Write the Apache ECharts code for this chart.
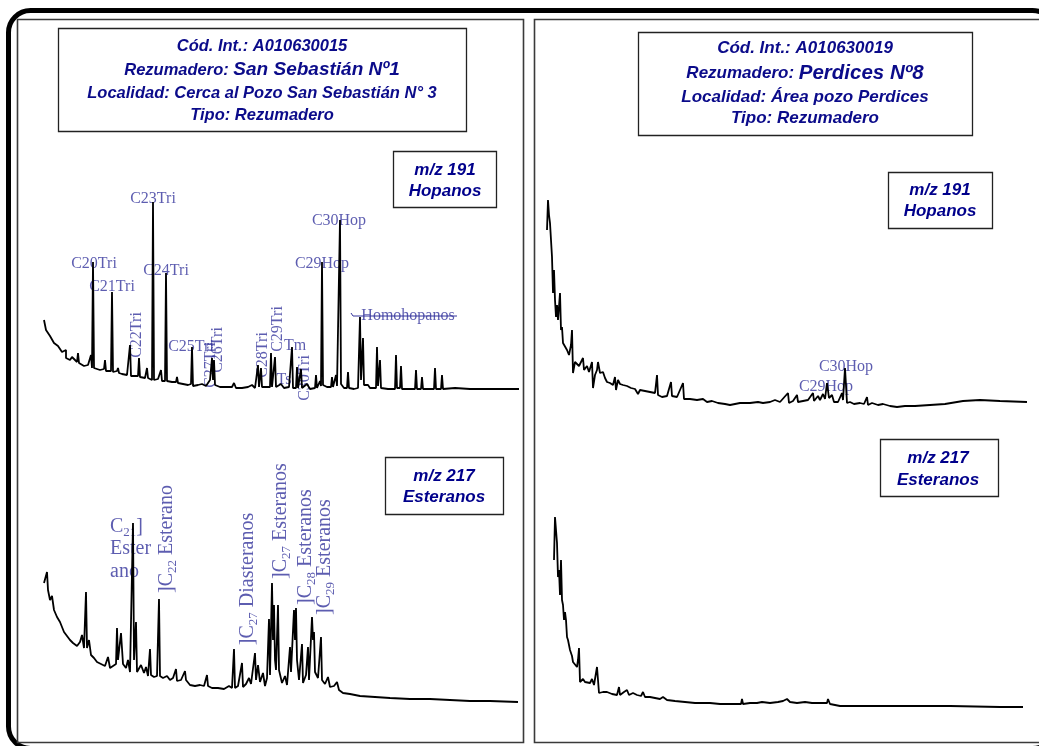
<!DOCTYPE html>
<html><head><meta charset="utf-8">
<script src="https://cdn.jsdelivr.net/npm/echarts@6/dist/echarts.min.js"></script>
<style>html,body{margin:0;padding:0;background:#fff}#c{width:1039px;height:746px}</style>
</head><body><div id="c"></div>
<script>
// ---- Chromatogram traces: [retention (arbitrary units), relative abundance] ----
const hopanosA = [[0,36],[0.4,31],[1.2,28],[2,24.5],[2.8,23],[3.6,20],[4.4,21],[4.4,17],[4.8,18],[5.2,16],[5.6,17.5],[6.6,15],[6.8,19.5],[7,14.5],[7.2,14],[8,13],[8.8,13.5],[9.2,13],[9.4,18.5],[9.6,12],[9.8,65],[10,12],[10.4,13],[11.2,11],[12,11.5],[12.2,16],[12.4,10.5],[12.6,10.5],[13.4,10.5],[13.6,50],[13.8,10],[14.6,10.5],[14.8,12],[15,9.5],[15.6,9],[16.6,8.5],[17,8.5],[17.2,23.5],[17.4,8],[18.2,8],[18.8,8],[19,17],[19.2,7.5],[20.2,7],[20.4,7.5],[20.6,12],[20.8,7],[21.6,6],[21.8,95],[22,6],[22.8,6.5],[23.2,6],[23.4,11],[23.6,5.5],[24.2,5.5],[24.4,59.5],[24.6,5.5],[25.6,5],[26.4,5],[26.6,7.5],[26.8,4.5],[27.8,4],[28.8,3.5],[29.4,4],[29.6,22.5],[29.8,3],[30.8,3.5],[31.6,4],[32.4,3],[33.2,6],[33.6,17],[33.8,6],[34,16],[34.2,3.5],[35.2,2.5],[36.4,2.5],[37.6,2.5],[38,4.5],[38.4,2],[39.6,2],[40.8,2.5],[41.6,3.5],[42.2,2],[42.6,2.5],[42.8,13.5],[43,2.5],[43.4,12],[43.6,2.5],[44.4,2.5],[45.2,2.5],[45.4,19.5],[45.6,2.5],[46,2.5],[46.2,17.5],[46.4,2.5],[47.4,4],[48,2],[49,2.5],[49.4,2.5],[49.6,22.5],[49.8,2],[50.4,2],[50.6,12.5],[50.8,2],[51.2,2],[51.4,11.5],[51.6,2],[52.6,4],[53.2,1.5],[54.2,2],[54.4,8.5],[54.6,2],[55.2,5.5],[55.4,3],[55.6,65],[55.8,3.5],[56.6,2.5],[57.4,2.5],[57.6,7.5],[57.8,2.5],[58.2,3],[58.4,8.5],[58.6,3],[59,3],[59.2,86],[59.4,4],[60,2],[60.6,2],[60.8,10],[61,2],[62,1.5],[62.8,2],[63,2],[63.2,37.5],[63.4,6],[63.6,6],[63.8,27],[64,3.5],[64.8,3.5],[65.2,2],[66.4,2],[66.6,22.5],[66.8,3],[67,3],[67.2,16],[67.4,2],[68.8,1.5],[70.2,1.5],[70.4,18.5],[70.6,2],[71.2,2],[71.4,13],[71.6,1.5],[73.2,1.5],[74.2,1.5],[74.4,11],[74.6,1.5],[75.4,1.5],[75.6,7.5],[75.8,1.5],[77.2,1.5],[78,1.5],[78.2,12],[78.4,1.5],[79.4,1.5],[79.6,8.5],[79.8,1.5],[82.2,2],[85.2,1.5],[89.2,1.5],[95,1.5]];

const esteranosA = [[0,60.5],[0.6,66],[0.8,57],[1.2,52],[1.6,54],[2,47],[2.6,43.5],[3.2,41],[3.6,42],[4,36],[4.6,34],[5.2,32],[5.8,30.5],[6.6,29],[7.2,31],[7.6,34.5],[8,28],[8.2,28],[8.4,56],[8.6,28],[9,32],[9.4,24.5],[10,23],[10.6,21],[11.4,20],[12.2,19],[12.8,23.5],[13.2,18],[13.8,19],[14.4,20],[14.6,38],[14.8,22],[15.2,22],[15.4,35.5],[15.8,20],[16.4,18],[16.8,22],[17.2,16],[17.6,17],[17.8,90.5],[18,22],[18.4,41],[18.6,16],[19.4,19.5],[20,15.5],[20.4,18.5],[20.8,14],[21.2,27.5],[21.4,14.5],[22,13.5],[22.6,14],[22.8,14],[23,52.5],[23.2,14],[23.8,13],[24.6,14],[25.2,12],[25.8,13],[26.4,17.5],[26.6,11.5],[27.4,12],[28.2,16.5],[28.4,12],[29.2,9.5],[30.2,9],[31.2,9.5],[32,9],[32.6,14.5],[32.8,9],[33.6,8],[34.8,8],[36,7.5],[37,9],[37.6,8],[38,27.5],[38.2,8],[38.8,9],[39.6,20.5],[39.8,8.5],[40.4,10],[41,13],[41.4,10],[42.2,25.5],[42.4,12],[42.8,19.5],[43.2,11],[43.8,15.5],[44.2,9],[44.6,13],[45,42.5],[45.2,14.5],[45.6,60.5],[45.8,32],[46,49.5],[46.2,22],[46.4,17],[46.8,49.5],[47,17],[47.6,10.5],[48.2,14],[48.6,9.5],[49.2,28.5],[49.4,16],[50,47],[50.2,32],[50.4,48],[50.6,22],[51,12],[51.6,30],[51.8,10.5],[52.4,14.5],[52.8,28.5],[53,12],[53.6,43.5],[53.8,32],[54,36],[54.2,16],[54.8,13],[55.4,33.5],[55.6,12],[56.2,10],[56.8,13.5],[57.2,8.5],[58,9],[58.6,11],[59,7],[59.8,5.5],[61.2,5],[63.2,4],[66.2,3.5],[69.2,3],[73.2,2.5],[77.2,2.5],[81.2,2],[85.2,1.5],[89.2,1.5],[94.8,1]];

const hopanosB = [[0,90],[0.2,105],[0.4,97.5],[0.6,93.5],[0.8,85],[1,76.5],[1.2,58.5],[1.4,70],[1.6,55],[1.8,46.5],[2,52.5],[2.2,45],[2.6,58.5],[2.8,40],[3,41.5],[3.2,33.5],[3.6,32.5],[4,30],[4.4,27.5],[4.8,32.5],[5,40],[5.2,18.5],[5.6,24],[6,25],[6.4,22],[6.8,21],[7.2,26],[7.4,20],[8,22],[8.4,19],[9,24],[9.2,11],[9.6,17.5],[10,20],[10.2,24],[10.6,18.5],[11.2,19],[11.6,16],[12,14],[12.6,13.5],[13.2,12.5],[13.6,16.5],[13.8,10],[14.2,15],[14.6,13],[15.2,12.5],[16,12],[16.8,11],[17.6,10.5],[18,10],[18.2,8],[18.6,10],[19.6,9.5],[20.6,9],[21.6,8.5],[22,17.5],[22.2,7.5],[23,6.5],[24,7],[24.8,14],[25,7],[26,6.5],[27.2,13.5],[27.4,5.5],[28.6,5.5],[30,5],[31.2,5.5],[32,4],[33,4.5],[34.2,3.5],[35.6,3],[36.6,2.5],[38.6,3.5],[40.6,3.5],[42.2,4],[43.2,3.5],[44.6,4],[45.6,5],[46.6,4],[48.2,8.5],[48.4,3.5],[49.2,4.5],[50,7.5],[50.2,4],[51.2,4.5],[52.2,5],[53.2,8.5],[53.4,4.5],[54.2,7],[54.6,5],[55.2,8],[55.6,5.5],[56,13.5],[56.4,6],[57,7.5],[57.4,4],[58.2,4],[59,8.5],[59.2,5],[59.6,21],[60,3.5],[60.6,4],[61.4,3],[62.6,3.5],[63.4,3],[64,6.5],[64.2,2.5],[65,3.5],[66.2,2.5],[67.2,3],[68.6,2],[70,1.5],[71.6,2],[73.6,2],[76.6,2.5],[79.6,3],[83.2,4.5],[86.6,5],[90.6,4.5],[96,4]];

const esteranosB = [[0,75],[0.2,96.5],[0.4,90],[0.6,83.5],[0.8,66.5],[1,70],[1.2,57.5],[1.4,75],[1.6,55],[1.8,52.5],[2,45],[2.2,49],[2.4,45],[2.6,36.5],[2.8,35],[3.2,30],[3.6,27],[3.8,24],[4.2,23],[4.6,21.5],[4.8,25],[5,31],[5.2,14],[5.8,15.5],[6.2,14],[6.6,15],[7.2,13.5],[7.6,15.5],[8,12.5],[8.4,11.5],[8.6,21.5],[9,8.5],[9.8,9],[10.6,9],[11.6,8],[12.6,7.5],[13,11.5],[13.2,7.5],[14,9],[14.6,10],[15,7.5],[15.8,8.5],[16.6,7.5],[17.4,7],[17.8,9],[18.2,6.5],[19.2,6.5],[20.2,6],[21.2,5.5],[21.8,6.5],[22.6,5],[24.2,4.5],[26.2,4],[28.2,3.5],[31.2,3.5],[33.2,3],[35.2,3],[37.4,3],[37.6,5.5],[37.8,3],[39.2,3.5],[40.6,3.5],[41.6,4],[43.2,3.5],[44.8,4],[45.8,4.5],[46.6,5.5],[47.2,4],[48.6,3.5],[50.2,4],[51.6,3.5],[53.2,3.5],[54.6,3.5],[54.8,5.5],[55.2,3],[57.2,2],[63.2,2],[69.2,2],[79.2,2],[89.2,1.5],[93.8,1.5]];

const homohopanosBar = [[61.4,39.5],[61.8,38],[82.6,38]];

// ---- Peak labels: [retention, abundance, text, rotation, anchor] ----
const labelsA = [
  [10,64,'C20Tri',0,'c'],[13.6,52.5,'C21Tri',0,'c'],[18.6,28.5,'C22Tri',90,'c'],
  [21.8,96.5,'C23Tri',0,'c'],[24.4,60.5,'C24Tri',0,'c'],[29.4,22.5,'C25Tri',0,'c'],
  [33.4,13.5,'C27Tri',90,'c'],[34.8,21,'C26Tri',90,'c'],[43.8,18.5,'C28Tri',90,'c'],
  [46.8,31.5,'C29Tri',90,'c'],[50.2,23,'Tm',0,'c'],[48,6,'Ts',0,'c'],
  [52.2,7,'C30Tri',90,'c'],[55.6,64,'C29Hop',0,'c'],[59,85.5,'C30Hop',0,'c'],
  [72.8,38,'Homohopanos',0,'c']
];
const labelsB = [
  [13.2,88.5,'{n|C}{s|21}{n|]}',0,'l'],[13.2,77.5,'{n|Ester}',0,'l'],[13.2,66,'{n|ano}',0,'l'],
  [24.6,82.5,'{n|]C}{s|22}{n| Esterano}',90,'c'],
  [40.8,62.5,'{n|]C}{s|27}{n| Diasteranos}',90,'c'],
  [47.4,91.5,'{n|]C}{s|27}{n| Esteranos}',90,'c'],
  [52.4,78.5,'{n|]C}{s|28}{n| Esteranos}',90,'c'],
  [56.2,73.5,'{n|]C}{s|29}{n| Esteranos}',90,'c']
];
const labelsC = [[59.8,21.5,'C30Hop',0,'c'],[55.8,11.5,'C29Hop',0,'c']];

const LBL = '#35359c', INFO = '#0b0b8a', MZ = '#00008b';

const chart = echarts.init(document.getElementById('c'), null, {renderer:'canvas'});

const grids = [
  {left:44, top:192, width:475, height:200},
  {left:44, top:504, width:475, height:200},
  {left:547, top:200, width:480, height:210},
  {left:554, top:510, width:470, height:200}
];
const xr = [[0,95],[0,95],[0,96],[0,94]];
const yr = [[0,100],[0,100],[0,105],[0,100]];

function trace(data, i){
  return {type:'line', xAxisIndex:i, yAxisIndex:i, data:data, showSymbol:false, symbol:'none',
    lineStyle:{color:'#000', width:1.8}, animation:false, silent:true, clip:false};
}
const serif = '"Liberation Serif", "Times New Roman", serif';
function labels(arr, i, size){
  return {type:'scatter', xAxisIndex:i, yAxisIndex:i, symbolSize:0, clip:false, silent:true, animation:false,
    data: arr.map(l => ({name:l[2], value:[l[0], l[1]],
      label:{show:true, rotate:l[3], position: l[4]==='l' ? 'right' : 'inside', distance:0,
        align: l[4]==='l' ? 'left' : 'center'}})),
    label:{show:true, formatter:p => p.name, color:LBL, fontFamily:serif, fontSize:size,
      rich:{
        n:{fontSize:20, color:LBL, fontFamily:serif, lineHeight:22, verticalAlign:'middle'},
        s:{fontSize:13, color:LBL, fontFamily:serif, lineHeight:13, padding:[12,0,0,0], verticalAlign:'middle'}
      }}
  };
}

function richText(x, y, rich, text){
  return {type:'text', x:x, y:y, style:{text:text, rich:rich, align:'center', verticalAlign:'middle',
    textAlign:'center', textVerticalAlign:'middle', fill:INFO}};
}
function plainText(x, y, text, font, color){
  return {type:'text', x:x, y:y, style:{text:text, align:'center', verticalAlign:'middle',
    textAlign:'center', textVerticalAlign:'middle', fill:color, font:font}};
}
function box(x, y, w, h, color, lw){
  return {type:'rect', shape:{x:x, y:y, width:w, height:h}, style:{fill:'none', stroke:color, lineWidth:lw}};
}

const sans = '"Liberation Sans", Arial, sans-serif';
const infoFont = 'italic bold 16.5px ' + sans;
const infoFontR = 'italic bold 17px ' + sans;
const mzFont = 'italic bold 17px ' + sans;
const richL = {a:{font:infoFont, fill:INFO, color:INFO}, b:{font:'italic bold 19px ' + sans, fill:INFO, color:INFO}};
const richR = {a:{font:infoFontR, fill:INFO, color:INFO}, b:{font:'italic bold 20.5px ' + sans, fill:INFO, color:INFO}};

const graphic = [
  {type:'rect', shape:{x:8.5, y:10.5, width:1046, height:738, r:22}, style:{fill:'none', stroke:'#000', lineWidth:5}},
  box(17.5, 19.5, 506, 723, '#3a3a3a', 1.6),
  box(534.5, 19.5, 530, 723, '#3a3a3a', 1.6),
  box(58.5, 28.5, 408, 103, '#222', 1.3),
  plainText(262, 46, 'Cód. Int.: A010630015', infoFont, INFO),
  richText(262, 70, richL, '{a|Rezumadero: }{b|San Sebastián Nº1}'),
  plainText(262, 93, 'Localidad: Cerca al Pozo San Sebastián N° 3', infoFont, INFO),
  plainText(262, 115, 'Tipo: Rezumadero', infoFont, INFO),
  box(638.5, 32.5, 334, 103, '#222', 1.3),
  plainText(805, 48, 'Cód. Int.: A010630019', infoFontR, INFO),
  richText(805, 73, richR, '{a|Rezumadero: }{b|Perdices Nº8}'),
  plainText(805, 97, 'Localidad: Área pozo Perdices', infoFontR, INFO),
  plainText(805, 118, 'Tipo: Rezumadero', infoFontR, INFO),
  box(393.5, 151.5, 103, 56, '#222', 1.3),
  plainText(445, 170, 'm/z 191', mzFont, MZ),
  plainText(445, 191, 'Hopanos', mzFont, MZ),
  box(385.5, 457.5, 118, 57, '#222', 1.3),
  plainText(444, 476, 'm/z 217', mzFont, MZ),
  plainText(444, 497, 'Esteranos', mzFont, MZ),
  box(888.5, 172.5, 104, 56, '#222', 1.3),
  plainText(940, 190, 'm/z 191', mzFont, MZ),
  plainText(940, 211, 'Hopanos', mzFont, MZ),
  box(880.5, 439.5, 118, 57, '#222', 1.3),
  plainText(938, 458, 'm/z 217', mzFont, MZ),
  plainText(938, 480, 'Esteranos', mzFont, MZ)
];

chart.setOption({
  animation:false,
  backgroundColor:'#fff',
  grid: grids,
  xAxis: grids.map((g,i) => ({type:'value', gridIndex:i, min:xr[i][0], max:xr[i][1], show:false})),
  yAxis: grids.map((g,i) => ({type:'value', gridIndex:i, min:yr[i][0], max:yr[i][1], show:false})),
  series: [
    trace(hopanosA, 0), trace(esteranosA, 1), trace(hopanosB, 2), trace(esteranosB, 3),
    {type:'line', xAxisIndex:0, yAxisIndex:0, data:homohopanosBar, showSymbol:false, symbol:'none',
      lineStyle:{color:LBL, width:1}, animation:false, silent:true, z:3},
    labels(labelsA, 0, 16), labels(labelsB, 1, 20), labels(labelsC, 2, 16)
  ],
  graphic: graphic
});
</script></body></html>
